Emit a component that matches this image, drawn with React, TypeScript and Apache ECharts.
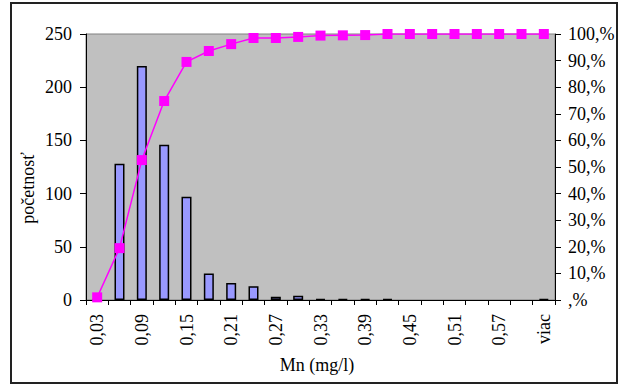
import React, { useEffect, useRef } from "react";
import * as echarts from "echarts";

const categories = [
  "0,03", "0,06", "0,09", "0,12", "0,15", "0,18", "0,21", "0,24", "0,27", "0,30",
  "0,33", "0,36", "0,39", "0,42", "0,45", "0,48", "0,51", "0,54", "0,57", "0,60", "viac",
];
const frequency = [1, 128, 220, 146, 97, 25, 16, 13, 3, 4, 1, 1, 1, 1, 0, 0, 0, 0, 0, 0, 1];
const cumulative = [
  0.01, 0.195, 0.526, 0.748, 0.895, 0.936, 0.962, 0.985, 0.985, 0.989,
  0.994, 0.995, 0.996, 1.0, 1.0, 1.0, 1.0, 1.0, 1.0, 1.0, 1.0,
];
const leftTicks = { min: 0, max: 250, interval: 50 };
const rightTicks = { min: 0, max: 1, interval: 0.1 };

const FONT = "'Liberation Serif', 'Times New Roman', serif";

export default function App() {
  const ref = useRef<HTMLDivElement>(null);
  useEffect(() => {
    if (!ref.current) return;
    const chart = echarts.init(ref.current, undefined, { renderer: "svg" });
    chart.setOption({
      animation: false,
      backgroundColor: "#ffffff",
      textStyle: { fontFamily: FONT, color: "#000" },
      grid: {
        left: 86,
        right: 64,
        top: 34,
        bottom: 85,
        show: true,
        backgroundColor: "#c0c0c0",
        borderColor: "#808080",
        borderWidth: 1,
      },
      graphic: [
        {
          type: "rect",
          shape: { x: 11, y: 3, width: 606, height: 380 },
          style: { fill: "none", stroke: "#222", lineWidth: 2 },
          silent: true,
        },
        {
          type: "text",
          x: 28,
          y: 188,
          rotation: Math.PI / 2,
          style: {
            text: "početnosť",
            font: `18px ${FONT}`,
            fill: "#000",
            align: "center",
            verticalAlign: "middle",
          },
        },
        {
          type: "text",
          x: 317,
          y: 365,
          style: {
            text: "Mn (mg/l)",
            font: `18px ${FONT}`,
            fill: "#000",
            align: "center",
            verticalAlign: "middle",
          },
        },
      ],
      xAxis: {
        type: "category",
        data: categories,
        boundaryGap: true,
        axisLine: { lineStyle: { color: "#000", width: 1 } },
        axisTick: { show: true, interval: 0, length: 5, lineStyle: { color: "#000" } },
        axisLabel: {
          interval: 1,
          rotate: 90,
          margin: 14,
          fontFamily: FONT,
          fontSize: 18,
          color: "#000",
        },
        splitLine: { show: false },
      },
      yAxis: [
        {
          type: "value",
          ...leftTicks,
          position: "left",
          axisLine: { show: true, lineStyle: { color: "#000" } },
          axisTick: { show: true, length: 6, lineStyle: { color: "#000" } },
          axisLabel: { margin: 14, fontFamily: FONT, fontSize: 18, color: "#000" },
          splitLine: { show: false },
        },
        {
          type: "value",
          ...rightTicks,
          position: "right",
          axisLine: { show: true, lineStyle: { color: "#000" } },
          axisTick: { show: true, length: 6, lineStyle: { color: "#000" } },
          axisLabel: {
            margin: 13,
            fontFamily: FONT,
            fontSize: 18,
            color: "#000",
            formatter: (v: number) => (v === 0 ? ",%" : Math.round(v * 100) + ",%"),
          },
          splitLine: { show: false },
        },
      ],
      series: [
        {
          type: "bar",
          data: frequency.map((v) =>
            v === 0 ? { value: v, itemStyle: { borderWidth: 0 } } : v
          ),
          yAxisIndex: 0,
          barWidth: 10,
          itemStyle: { color: "#9999ff", borderColor: "#000", borderWidth: 1.5 },
        },
        {
          type: "line",
          data: cumulative,
          yAxisIndex: 1,
          symbol: "rect",
          symbolSize: 10,
          lineStyle: { color: "#ff00ff", width: 1.5 },
          itemStyle: { color: "#ff00ff" },
        },
      ],
    });
    return () => chart.dispose();
  }, []);
  return (
    <div
      ref={ref}
      style={{ position: "absolute", left: 0, top: 0, width: 619, height: 385 }}
    />
  );
}
